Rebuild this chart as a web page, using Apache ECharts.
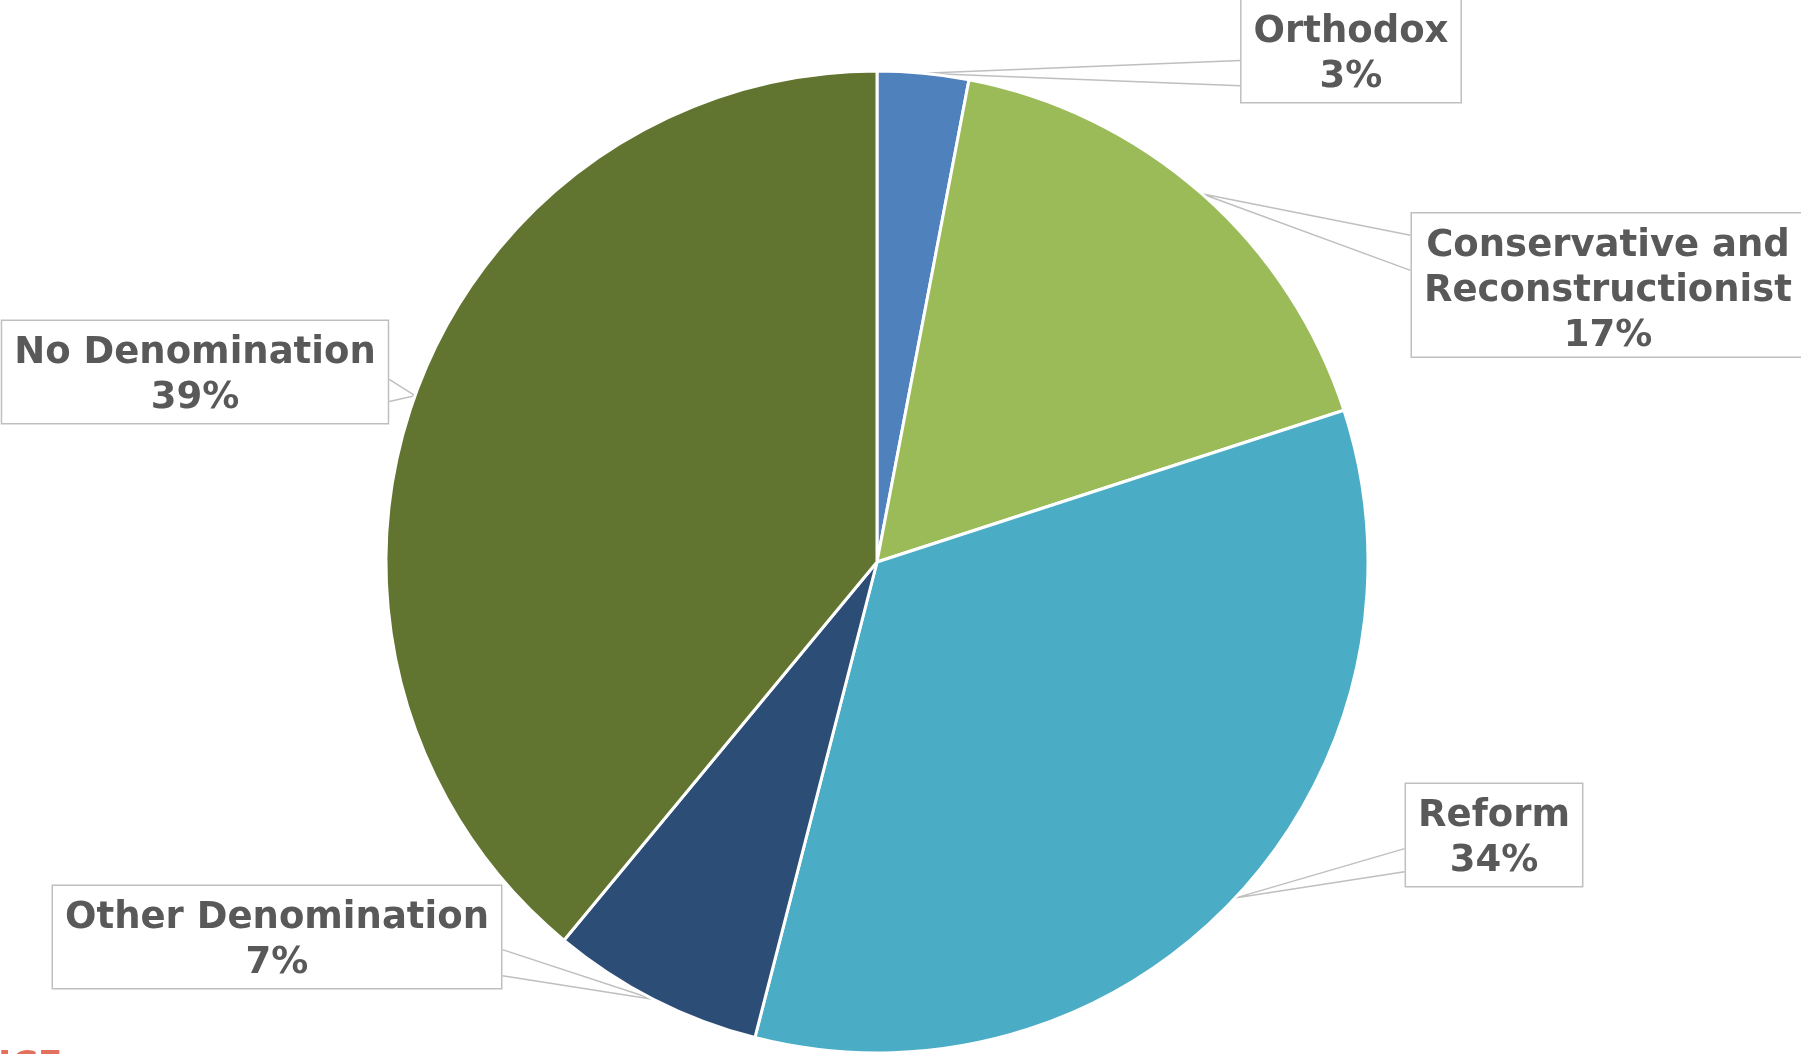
<!DOCTYPE html>
<html><head><meta charset="utf-8">
<script src="https://cdn.jsdelivr.net/npm/echarts@6/dist/echarts.min.js"></script>
<style>html,body{margin:0;padding:0;background:#fff}#c{width:1801px;height:1054px}</style>
</head><body><div id="c"></div>
<script>
const categories = ['Orthodox', 'Conservative and Reconstructionist', 'Reform', 'Other Denomination', 'No Denomination'];
const shares = [3, 17, 34, 7, 39];
const colors = ['#4F81BD', '#9BBB59', '#4BACC6', '#2C4D75', '#617531'];

// layout only: label box centres and where the callout wedge meets the box edge
const labelCenters = [[1351, 51], [1608, 285], [1494, 835], [277, 937], [195, 372]];
const wedgeFractions = [[0.59, 0.83], [0.16, 0.40], [0.63, 0.85], [0.62, 0.87], [0.57, 0.78]];

const font = {fontFamily: '"DejaVu Sans", Verdana, sans-serif', fontWeight: 'bold', fontSize: 37, color: '#595959'};

const chart = echarts.init(document.getElementById('c'), null, {renderer: 'canvas'});
chart.setOption({
  backgroundColor: '#ffffff',
  animation: false,
  graphic: [{
    type: 'text', left: -2, top: 1049,
    style: {text: 'ICE', fill: '#E3705C', font: 'bold 36px "DejaVu Sans"'}
  }],
  series: [{
    type: 'pie',
    center: [877, 562],
    radius: 491,
    startAngle: 90,
    clockwise: true,
    avoidLabelOverlap: false,
    itemStyle: {borderColor: '#ffffff', borderWidth: 3},
    label: Object.assign({
      show: true,
      position: 'outside',
      formatter: function (p) {
        const lines = p.name.replace('Conservative and ', 'Conservative and\n').split('\n');
        lines.push(p.value + '%');
        return lines.map(function (t, k) { return (k % 2 === 0 ? '{a|' : '{b|') + t + '}'; }).join('\n');
      },
      rich: {
        a: Object.assign({lineHeight: 41, align: 'center'}, font),
        b: Object.assign({lineHeight: 49, align: 'center'}, font)
      },
      lineHeight: 46,
      align: 'center',
      backgroundColor: '#ffffff',
      borderColor: '#BFBFBF',
      borderWidth: 1.5,
      padding: [12, 12, 0, 12]
    }, font),
    labelLine: {show: true, length: 20, length2: 20, lineStyle: {color: '#BFBFBF', width: 1.5}},
    labelLayout: function (p) {
      const i = p.dataIndex;
      const c = labelCenters[i];
      const w = p.labelRect.width, h = p.labelRect.height;
      const left = c[0] - w / 2, right = c[0] + w / 2, top = c[1] - h / 2;
      const apex = p.labelLinePoints ? p.labelLinePoints[0] : [c[0], c[1]];
      const ex = apex[0] < left ? left : right;
      const f = wedgeFractions[i];
      return {
        x: c[0], y: c[1], align: 'center', verticalAlign: 'middle',
        labelLinePoints: [[ex, top + f[0] * h], [apex[0], apex[1]], [ex, top + f[1] * h]]
      };
    },
    data: categories.map(function (name, i) {
      return {name: name, value: shares[i], itemStyle: {color: colors[i]}};
    })
  }]
});
</script>
</body></html>
